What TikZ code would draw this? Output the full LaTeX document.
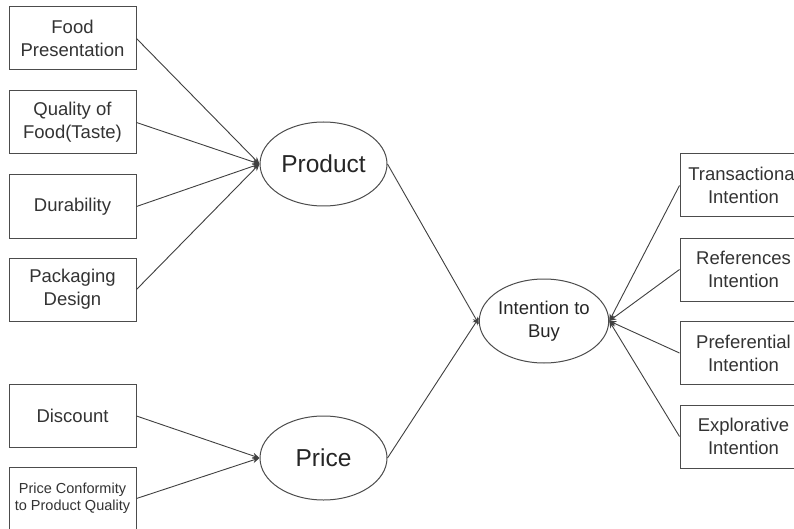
\documentclass[tikz,border=0pt]{standalone}
\usepackage{fontspec}
\setmainfont{Liberation Sans}
\usetikzlibrary{arrows.meta,shapes.geometric}
\begin{document}
\begin{tikzpicture}[x=1pt,y=-1pt,
  boxnode/.style={draw=black!70,line width=1pt,minimum width=127pt,minimum height=63pt,align=center,inner sep=0pt,text=black!80,font=\fontsize{18.5}{23}\selectfont},
  smallbox/.style={boxnode,font=\fontsize{14.5}{17}\selectfont},
  ellnode/.style={draw=black!70,line width=1pt,ellipse,minimum width=127pt,minimum height=84pt,inner sep=0pt,align=center,text=black!85},
  conn/.style={draw=black!75,line width=0.9pt,-{Stealth[length=7pt,width=6pt]}}]
\useasboundingbox (0,0) rectangle (794,529);
\clip (0,0) rectangle (794,529);
\fill[white] (0,0) rectangle (794,529);
% left boxes
\node[boxnode] (food) at (72.5,38.5) {Food\\Presentation};
\node[boxnode] (qual) at (72.5,122.5) {Quality of\\Food(Taste)};
\node[boxnode] (dur) at (72.5,206.5) {Durability};
\node[boxnode] (pack) at (72.5,289.5) {Packaging\\Design};
\node[boxnode] (disc) at (72.5,416) {Discount};
\node[smallbox] (conf) at (72.5,498.5) {Price Conformity\\to Product Quality};
% ellipses
\node[ellnode,font=\fontsize{24.5}{28}\selectfont] (prod) at (323.5,164) {Product};
\node[ellnode,font=\fontsize{24.5}{28}\selectfont] (price) at (323.5,458) {Price};
\node[ellnode,minimum width=124pt,font=\fontsize{18.5}{23}\selectfont] (int) at (544,321) {Intention to\\Buy};
% right boxes
\node[boxnode] (trans) at (743.5,185.5) {Transactional\\Intention};
\node[boxnode] (ref) at (743.5,269.5) {References\\Intention};
\node[boxnode] (pref) at (743.5,353) {Preferential\\Intention};
\node[boxnode] (expl) at (743.5,436.5) {Explorative\\Intention};
% connectors
\foreach \s in {food,qual,dur,pack}
  \draw[conn] (\s.east) -- (prod.west);
\foreach \s in {disc,conf}
  \draw[conn] (\s.east) -- (price.west);
\draw[conn] (prod.east) -- ([yshift=-3pt]int.west);
\draw[conn] (price.east) -- ([yshift=3pt]int.west);
\foreach \s in {trans,ref,pref,expl}
  \draw[conn] (\s.west) -- (int.east);
\end{tikzpicture}
\end{document}
